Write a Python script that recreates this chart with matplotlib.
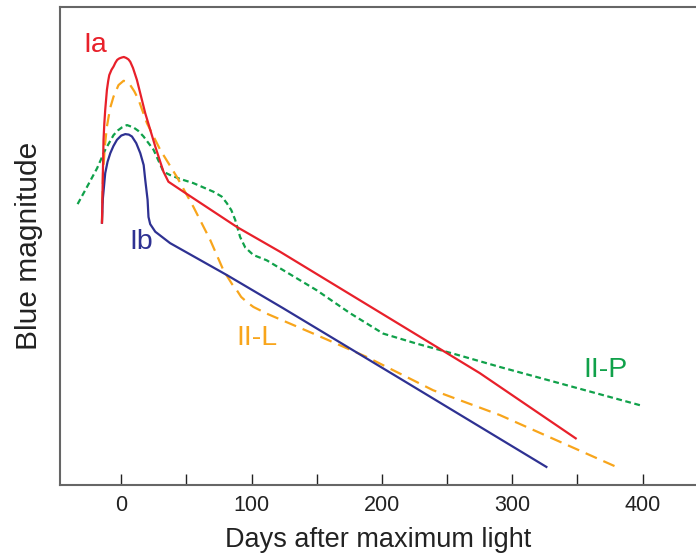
import numpy as np
import matplotlib.pyplot as plt
from matplotlib.ticker import MultipleLocator

plt.rcParams['font.family'] = ['Liberation Sans', 'DejaVu Sans']

# ---- light curves (days after max, relative blue magnitude; larger = fainter) ----
ia_days = [-14.8, -14.2, -13.6, -13.0, -12.3, -11.0, -10.0, -9.2, -7.5, -5.9,
           -4.5, -3.1, -1.5, 0.5, 2.0, 3.8, 5.5, 6.9, 9.0, 12.0, 18.4, 26.1,
           32.4, 36.2, 47.7, 88.7, 121.8, 275.1, 348.7]
ia_mag = [4.53, 3.63, 2.79, 2.45, 2.16, 1.74, 1.55, 1.43, 1.32, 1.25,
          1.17, 1.11, 1.08, 1.06, 1.05, 1.07, 1.10, 1.15, 1.28, 1.53, 2.23, 2.93,
          3.46, 3.67, 3.88, 4.62, 5.14, 7.69, 9.06]

ib_days = [-14.8, -14.2, -12.3, -10.5, -8.4, -6.0, -3.3, 0.0, 3.1, 5.8, 8.2,
           11.5, 14.6, 17.2, 18.4, 20.2, 20.9, 22.2, 26.1, 37.5, 81.0, 124.4,
           216.1, 326.2]
ib_mag = [4.53, 4.05, 3.49, 3.25, 3.07, 2.92, 2.79, 2.70, 2.67, 2.68, 2.72,
          2.86, 3.07, 3.32, 3.63, 4.05, 4.41, 4.56, 4.72, 4.96, 5.63, 6.33,
          7.84, 9.66]

iil_days = [-14.8, -14.0, -12.5, -11.0, -8.5, -5.9, -2.1, 1.8, 4.5, 6.9, 10.0,
            13.3, 19.7, 29.9, 42.7, 55.4, 68.2, 78.4, 85.0, 88.7, 92.0, 96.5,
            101.4, 111.6, 147.4, 188.3, 239.3, 290.4, 382.4]
iil_mag = [4.53, 3.49, 2.90, 2.51, 2.12, 1.88, 1.64, 1.55, 1.57, 1.64, 1.77,
           1.95, 2.44, 3.00, 3.57, 4.20, 4.89, 5.53, 5.82, 5.95, 6.09, 6.20,
           6.30, 6.44, 6.86, 7.35, 8.05, 8.57, 9.69]

iip_days = [-33.5, -26.3, -18.6, -12.3, -5.9, -2.5, 0.5, 4.4, 9.4, 13.0, 17.1,
            24.8, 32.4, 37.5, 45.0, 55.4, 70.7, 77.0, 81.0, 84.5, 87.4, 91.2,
            95.1, 101.4, 111.6, 124.4, 150.0, 175.5, 201.0, 226.6, 254.6, 290.4,
            400.2]
iip_mag = [4.14, 3.78, 3.39, 3.00, 2.69, 2.59, 2.53, 2.48, 2.53, 2.60, 2.72,
           3.00, 3.46, 3.53, 3.61, 3.70, 3.88, 3.98, 4.12, 4.27, 4.47, 4.83,
           5.05, 5.21, 5.32, 5.53, 5.95, 6.43, 6.86, 7.07, 7.28, 7.56,
           8.38]

red = '#e8202a'
blue = '#2e3192'
orange = '#f8a51b'
green = '#10a14a'
spine_col = '#666666'

fig = plt.figure(figsize=(6.96, 5.55), dpi=100)
ax = fig.add_axes([60 / 696, 1 - 485 / 555, 1 - 60 / 696, 478 / 555])

ax.plot(iip_days, iip_mag, color=green, lw=1.6, dashes=(2.6, 1.6))
ax.plot(iil_days, iil_mag, color=orange, lw=1.6, dashes=(5.5, 3.2))
ax.plot(ib_days, ib_mag, color=blue, lw=1.6)
ax.plot(ia_days, ia_mag, color=red, lw=1.6)

ax.text(-19.9, 0.80, 'Ia', color=red, fontsize=20.5, ha='center', va='center')
ax.text(15.3, 4.94, 'Ib', color=blue, fontsize=20.5, ha='center', va='center')
ax.text(104.2, 6.95, 'II-L', color=orange, fontsize=20.5, ha='center', va='center')
ax.text(371.6, 7.63, 'II-P', color=green, fontsize=20.5, ha='center', va='center')

ax.set_xlim(-47, 441)
ax.set_ylim(10.04, 0)
ax.xaxis.set_major_locator(MultipleLocator(100))
ax.xaxis.set_minor_locator(MultipleLocator(50))
ax.tick_params(axis='x', which='both', direction='in', length=8, width=1.0,
               color='#222222', labelsize=15.5, pad=7, labelcolor='#222222')
ax.set_yticks([])

for s in ['left', 'top', 'bottom']:
    ax.spines[s].set_color(spine_col)
    ax.spines[s].set_linewidth(1.5)
ax.spines['right'].set_visible(False)

ax.set_xlabel('Days after maximum light', fontsize=19.5, labelpad=8, color='#222222')
ax.set_ylabel('Blue magnitude', fontsize=21.5, labelpad=12, color='#222222')

fig.savefig('out.png', dpi=100)
